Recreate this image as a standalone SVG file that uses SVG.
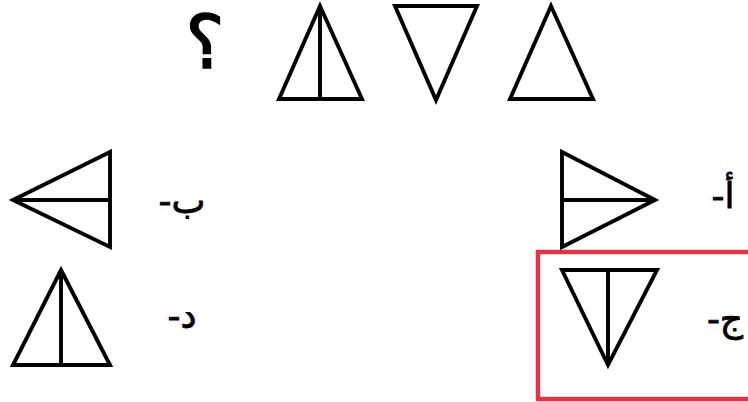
<svg xmlns="http://www.w3.org/2000/svg" width="748" height="402" viewBox="0 0 748 402">
<style>
.s{fill:none;stroke:#000;stroke-width:3.9;stroke-linejoin:miter}
.l{font-family:"DejaVu Sans","Noto Sans",sans-serif;font-size:36px;fill:#000;stroke:#000;stroke-width:0.8;text-anchor:middle}
</style>
<rect width="748" height="402" fill="#fff"/>
<g id="question">
<text x="205" y="68" font-family="DejaVu Sans, sans-serif" font-size="74" text-anchor="middle" fill="#000" stroke="#000" stroke-width="1.5">؟</text>
</g>
<g id="seq1"><polygon class="s" points="320,6 362,99 279,99"/><line class="s" x1="320" y1="6" x2="320" y2="99"/></g>
<g id="seq2"><polygon class="s" points="395,6 477,6 436,100"/></g>
<g id="seq3"><polygon class="s" points="551,6 593,99 510,99"/></g>
<g id="optA"><polygon class="s" points="562,152 655,200 562,247"/><line class="s" x1="562" y1="200" x2="655" y2="200"/>
<text class="l" x="723" y="208" direction="rtl">أ-</text></g>
<g id="optB"><polygon class="s" points="110,152 13,200 110,247"/><line class="s" x1="13" y1="200" x2="110" y2="200"/>
<text class="l" x="182" y="213" direction="rtl">ب-</text></g>
<g id="optC"><rect x="538" y="252" width="214" height="147" fill="none" stroke="#dc3545" stroke-width="4.5"/>
<polygon class="s" points="562,270 657,270 608,365"/><line class="s" x1="608" y1="270" x2="608" y2="365"/>
<text class="l" x="725" y="331" direction="rtl">ج-</text></g>
<g id="optD"><polygon class="s" points="61,270 110,365 13,365"/><line class="s" x1="61" y1="270" x2="61" y2="365"/>
<text class="l" x="182" y="328" direction="rtl">د-</text></g>
<g id="connectors"/>
</svg>
